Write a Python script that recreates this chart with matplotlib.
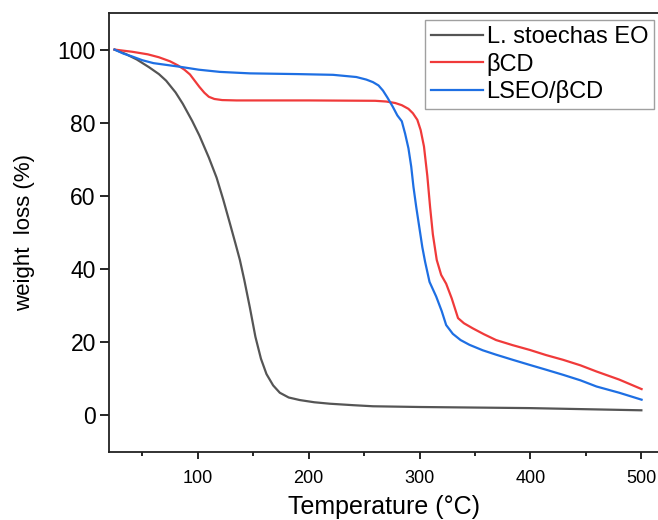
import matplotlib
matplotlib.use("Agg")
import matplotlib.pyplot as plt
from matplotlib.ticker import MultipleLocator

plt.rcParams['font.family'] = ['Liberation Sans', 'DejaVu Sans']

# L. stoechas EO
eo_t = [25, 35, 45, 56, 65, 71.5, 80, 86.5, 95, 101.5, 110, 117, 123, 129, 134, 138, 142, 147, 152, 157, 162, 168, 174, 182, 192, 205, 219, 240, 258, 300, 399, 500]
eo_w = [100, 98.8, 97.3, 95.2, 93.3, 91.5, 88.3, 85.2, 80.5, 76.5, 70.5, 65, 59, 52.5, 47, 42.5, 37, 29.5, 21.5, 15.5, 11.3, 8.2, 6.2, 4.9, 4.2, 3.6, 3.2, 2.8, 2.5, 2.3, 2.0, 1.4]

# beta-CD
cd_t = [25, 41, 55, 65, 75, 82, 88, 93, 97, 101.5, 106, 110, 115, 122, 135, 200, 260, 270, 278, 284, 290, 294, 298, 301, 304, 307, 309.5, 312, 315.5, 319.5, 324, 329, 334.7, 340, 348, 358, 369, 384, 399.4, 414, 429.4, 445, 459.6, 480, 500.2]
cd_w = [100, 99.4, 98.7, 97.9, 96.8, 95.7, 94.5, 93.2, 91.6, 89.8, 88.2, 87.1, 86.5, 86.2, 86.1, 86.1, 86.0, 85.8, 85.4, 84.8, 83.8, 82.6, 80.8, 78, 73.5, 65.5, 57, 49.5, 42.5, 38.4, 36, 32, 26.6, 25.2, 23.8, 22.2, 20.6, 19.2, 17.9, 16.5, 15.2, 13.7, 12.0, 9.8, 7.2]

# LSEO/beta-CD
ic_t = [25, 33, 41, 50, 60, 72, 84, 101, 120, 147, 190, 222, 243, 252, 258, 263, 267, 271, 276, 280, 284, 287, 290, 292.5, 294.5, 297, 300, 302.5, 305, 309, 315, 320, 324, 330, 337, 345, 357, 369, 384, 399.4, 414, 429.4, 445, 459.6, 480, 500.2]
ic_w = [100, 98.9, 98.1, 97.1, 96.3, 95.8, 95.3, 94.5, 93.9, 93.5, 93.3, 93.1, 92.5, 91.8, 91.1, 90.2, 88.8, 86.9, 84.3, 82, 80.4, 77, 73, 68, 62.5, 57, 51, 46, 42, 36.5, 32.5, 28.5, 24.7, 22.3, 20.6, 19.3, 17.8, 16.6, 15.2, 13.8, 12.5, 11.1, 9.6, 7.9, 6.2, 4.3]

labels = ['L. stoechas EO', 'βCD', 'LSEO/βCD']

fig = plt.figure(figsize=(6.58, 5.2), dpi=100)
ax = fig.add_axes([109/658, 68/520, 1 - 109/658, (452-13)/520])

ax.plot(eo_t, eo_w, color='#555555', lw=1.6, label=labels[0])
ax.plot(cd_t, cd_w, color='#f03a3a', lw=1.6, label=labels[1])
ax.plot(ic_t, ic_w, color='#1e6fe3', lw=1.6, label=labels[2])

ax.set_xlim(20, 515)
ax.set_ylim(-10, 110)
ax.xaxis.set_major_locator(MultipleLocator(100))
ax.xaxis.set_minor_locator(MultipleLocator(50))
ax.yaxis.set_major_locator(MultipleLocator(20))
ax.spines['right'].set_visible(False)
for s in ['left', 'bottom', 'top']:
    ax.spines[s].set_linewidth(1.3)
    ax.spines[s].set_color('#222222')
ax.tick_params(axis='y', which='major', direction='out', length=6.5, width=1.2, labelsize=16.5, pad=3)
ax.tick_params(axis='x', which='major', direction='out', length=5, width=1.2, labelsize=13, pad=8)
ax.tick_params(axis='x', which='minor', direction='out', length=3, width=1.2)

ax.set_xlabel('Temperature (°C)', fontsize=18, labelpad=6)
ax.set_ylabel('weight  loss (%)', fontsize=16, labelpad=16)

leg = ax.legend(loc='upper right', bbox_to_anchor=((654-109)/(658-109), (520-20-68)/(452-13)),
                fontsize=17, frameon=True, fancybox=False, borderpad=0.25,
                labelspacing=0.2, handlelength=2.2, handletextpad=0.15, borderaxespad=0)
leg.get_frame().set_edgecolor('#888888')
leg.get_frame().set_linewidth(1.0)

fig.savefig('out.png', dpi=100)
